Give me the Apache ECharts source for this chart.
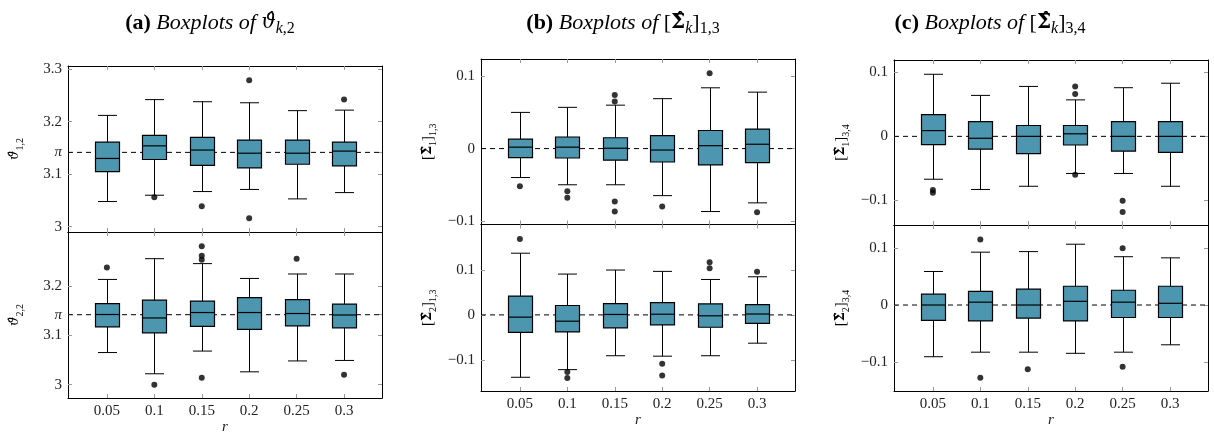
<!DOCTYPE html>
<html><head><meta charset="utf-8">
<script src="https://cdn.jsdelivr.net/npm/echarts@6/dist/echarts.min.js"></script>
<style>html,body{margin:0;padding:0;background:#fff}#c{width:1214px;height:439px}</style>
</head><body><div id="c"></div><script>
// categories (r)
const r = [0.05, 0.1, 0.15, 0.2, 0.25, 0.3];
// each row: [lower whisker, Q1, median, Q3, upper whisker], one row per r
const theta12 = [[3.048,3.105,3.130,3.161,3.212],[3.060,3.128,3.154,3.174,3.242],[3.067,3.117,3.146,3.170,3.238],[3.071,3.112,3.140,3.165,3.236],[3.053,3.119,3.140,3.165,3.221],[3.065,3.116,3.144,3.161,3.222]];
const theta12Out = [[0.1,3.056],[0.15,3.039],[0.2,3.279],[0.2,3.016],[0.3,3.242]];
const theta22 = [[3.065,3.117,3.142,3.164,3.213],[3.022,3.105,3.135,3.171,3.255],[3.068,3.118,3.146,3.169,3.245],[3.026,3.112,3.146,3.176,3.215],[3.048,3.119,3.144,3.172,3.224],[3.049,3.115,3.141,3.163,3.224]];
const theta22Out = [[0.05,3.237],[0.1,3.000],[0.15,3.280],[0.15,3.261],[0.15,3.253],[0.15,3.014],[0.25,3.255],[0.3,3.020]];
const sig1_13 = [[-0.040,-0.0125,0.002,0.013,0.050],[-0.050,-0.013,0.002,0.016,0.057],[-0.050,-0.016,0.0005,0.015,0.060],[-0.065,-0.0185,-0.002,0.018,0.069],[-0.087,-0.0226,0.004,0.025,0.084],[-0.075,-0.0194,0.006,0.027,0.078]];
const sig1_13Out = [[0.05,-0.052],[0.1,-0.059],[0.1,-0.068],[0.15,0.074],[0.15,0.065],[0.15,-0.073],[0.15,-0.087],[0.2,-0.080],[0.25,0.104],[0.3,-0.088]];
const sig2_13 = [[-0.139,-0.039,-0.005,0.042,0.1375],[-0.122,-0.038,-0.014,0.021,0.091],[-0.091,-0.029,0.001,0.025,0.100],[-0.092,-0.022,0.0015,0.0275,0.097],[-0.091,-0.0275,-0.002,0.0245,0.079],[-0.063,-0.019,0.002,0.023,0.085]];
const sig2_13Out = [[0.05,0.169],[0.1,-0.127],[0.1,-0.1405],[0.2,-0.1086],[0.2,-0.135],[0.25,0.1175],[0.25,0.104],[0.3,0.096]];
const sig1_34 = [[-0.067,-0.013,0.009,0.034,0.097],[-0.083,-0.020,-0.003,0.023,0.064],[-0.078,-0.027,0.0,0.017,0.078],[-0.058,-0.0135,0.004,0.017,0.057],[-0.058,-0.023,0.0,0.023,0.076],[-0.078,-0.025,0.0,0.023,0.083]];
const sig1_34Out = [[0.05,-0.084],[0.05,-0.088],[0.2,0.078],[0.2,0.066],[0.2,-0.060],[0.25,-0.1005],[0.25,-0.118]];
const sig2_34 = [[-0.091,-0.027,0.0,0.019,0.059],[-0.083,-0.028,0.005,0.024,0.093],[-0.083,-0.023,0.0,0.028,0.094],[-0.085,-0.028,0.0065,0.033,0.107],[-0.083,-0.022,0.005,0.026,0.085],[-0.070,-0.022,0.003,0.033,0.083]];
const sig2_34Out = [[0.1,0.1155],[0.1,-0.128],[0.15,-0.113],[0.25,0.100],[0.25,-0.1085]];
// tick labels
const thetaTicksTop = [3, 3.1, Math.PI, 3.2, 3.3];
const thetaTicksBottom = [3, 3.1, Math.PI, 3.2];
const sigTicks = [-0.1, 0, 0.1];
const X_MIN = 0.009, X_MAX = 0.34;

const SERIF = '"Liberation Serif", "DejaVu Serif", serif';
const MATH = '"DejaVu Serif", serif';
const FILL = '#4c96b0';

const subRich = {
  m: {fontFamily: MATH, fontSize: 13, fontStyle: 'italic', color: '#000', lineHeight: 20, verticalAlign: 'middle'},
  mb: {fontFamily: MATH, fontSize: 13, fontWeight: 'bold', color: '#000', lineHeight: 20, verticalAlign: 'middle'},
  br: {fontFamily: SERIF, fontSize: 15, color: '#000', lineHeight: 20, verticalAlign: 'middle'},
  s: {fontFamily: SERIF, fontSize: 10, color: '#000', lineHeight: 10, verticalAlign: 'bottom'}
};

const panels = [
  {grid: {left: 68, top: 66, width: 314, height: 166}, data: theta12, out: theta12Out, min: 2.990, max: 3.306, ticks: thetaTicksTop, ref: Math.PI, name: '{m|ϑ̂}{s|1,2}', showX: false},
  {grid: {left: 68, top: 232, width: 314, height: 166}, data: theta22, out: theta22Out, min: 2.973, max: 3.309, ticks: thetaTicksBottom, ref: Math.PI, name: '{m|ϑ̂}{s|2,2}', showX: true},
  {grid: {left: 481, top: 59, width: 314, height: 165.5}, data: sig1_13, out: sig1_13Out, min: -0.1049, max: 0.1238, ticks: sigTicks, ref: 0, name: '{br|[}{mb|Σ̂}{s|1}{br|]}{s|1,3}', showX: false},
  {grid: {left: 481, top: 224.5, width: 314, height: 166.5}, data: sig2_13, out: sig2_13Out, min: -0.1696, max: 0.2015, ticks: sigTicks, ref: 0, name: '{br|[}{mb|Σ̂}{s|2}{br|]}{s|1,3}', showX: true},
  {grid: {left: 894, top: 60, width: 314, height: 165}, data: sig1_34, out: sig1_34Out, min: -0.1385, max: 0.1193, ticks: sigTicks, ref: 0, name: '{br|[}{mb|Σ̂}{s|1}{br|]}{s|3,4}', showX: false},
  {grid: {left: 894, top: 225, width: 314, height: 166}, data: sig2_34, out: sig2_34Out, min: -0.1513, max: 0.1408, ticks: sigTicks, ref: 0, name: '{br|[}{mb|Σ̂}{s|2}{br|]}{s|3,4}', showX: true}
];

function fmt(v) {
  if (Math.abs(v - Math.PI) < 1e-9) return '{pi|π}';
  const s = String(Math.round(v * 1000) / 1000);
  return s.replace('-', '−');
}

function renderBox(params, api) {
  const x = api.value(0);
  const lo = api.coord([x, api.value(1)]);
  const q1 = api.coord([x, api.value(2)]);
  const md = api.coord([x, api.value(3)]);
  const q3 = api.coord([x, api.value(4)]);
  const hi = api.coord([x, api.value(5)]);
  const cx = Math.round(lo[0]) + 0.5;
  const bw = 24, cw = 19;
  const ls = {stroke: '#000', lineWidth: 1};
  return {type: 'group', children: [
    {type: 'line', shape: {x1: cx, y1: hi[1], x2: cx, y2: q3[1]}, style: ls},
    {type: 'line', shape: {x1: cx, y1: q1[1], x2: cx, y2: lo[1]}, style: ls},
    {type: 'line', shape: {x1: cx - cw / 2, y1: hi[1], x2: cx + cw / 2, y2: hi[1]}, style: ls},
    {type: 'line', shape: {x1: cx - cw / 2, y1: lo[1], x2: cx + cw / 2, y2: lo[1]}, style: ls},
    {type: 'rect', shape: {x: cx - bw / 2, y: q3[1], width: bw, height: q1[1] - q3[1]}, style: {fill: FILL, stroke: '#000', lineWidth: 1.2}},
    {type: 'line', shape: {x1: cx - bw / 2, y1: md[1], x2: cx + bw / 2, y2: md[1]}, style: {stroke: '#000', lineWidth: 1.2}}
  ]};
}

const grid = [], xAxis = [], yAxis = [], series = [];
const tickStyle = {color: '#999', width: 1};
panels.forEach((p, i) => {
  grid.push(p.grid);
  const xa = 2 * i, ya = 2 * i;
  xAxis.push({
    type: 'value', gridIndex: i, min: X_MIN, max: X_MAX, position: 'bottom',
    axisLine: {show: true, onZero: false, lineStyle: {color: '#000', width: 1}},
    axisTick: {show: true, inside: true, length: 4, customValues: r, lineStyle: tickStyle},
    axisLabel: {show: p.showX, customValues: r, margin: 6, fontFamily: SERIF, fontSize: 15, color: '#222', formatter: v => String(v)},
    splitLine: {show: false},
    name: p.showX ? 'r' : '', nameLocation: 'middle', nameGap: 22,
    nameTextStyle: {fontFamily: SERIF, fontSize: 15, fontStyle: 'italic', color: '#222'}
  });
  xAxis.push({
    type: 'value', gridIndex: i, min: X_MIN, max: X_MAX, position: 'top',
    axisLine: {show: true, onZero: false, lineStyle: {color: '#000', width: 1}},
    axisTick: {show: true, inside: true, length: 4, customValues: r, lineStyle: tickStyle},
    axisLabel: {show: false}, splitLine: {show: false}
  });
  yAxis.push({
    type: 'value', gridIndex: i, min: p.min, max: p.max, position: 'left',
    axisLine: {show: true, onZero: false, lineStyle: {color: '#000', width: 1}},
    axisTick: {show: true, inside: true, length: 4, customValues: p.ticks, lineStyle: tickStyle},
    axisLabel: {show: true, customValues: p.ticks, margin: 6, fontFamily: SERIF, fontSize: 15, color: '#222', formatter: fmt,
      rich: {pi: {fontFamily: SERIF, fontSize: 15, fontStyle: 'italic', color: '#222'}}},
    splitLine: {show: false},
    name: p.name, nameLocation: 'middle', nameGap: 43, nameRotate: 90,
    nameTextStyle: {rich: subRich}
  });
  yAxis.push({
    type: 'value', gridIndex: i, min: p.min, max: p.max, position: 'right',
    axisLine: {show: true, onZero: false, lineStyle: {color: '#000', width: 1}},
    axisTick: {show: true, inside: true, length: 4, customValues: p.ticks, lineStyle: tickStyle},
    axisLabel: {show: false}, splitLine: {show: false}
  });
  series.push({
    type: 'line', xAxisIndex: xa, yAxisIndex: ya, z: 1, silent: true, symbol: 'none',
    data: [[X_MIN, p.ref], [X_MAX, p.ref]],
    lineStyle: {color: '#000', width: 1, type: [5, 4]}
  });
  series.push({
    type: 'custom', xAxisIndex: xa, yAxisIndex: ya, z: 2,
    renderItem: renderBox,
    encode: {x: 0, y: [1, 2, 3, 4, 5]},
    data: r.map((x, k) => [x].concat(p.data[k]))
  });
  series.push({
    type: 'scatter', xAxisIndex: xa, yAxisIndex: ya, z: 3,
    symbol: 'circle', symbolSize: 6, itemStyle: {color: '#000'},
    data: p.out
  });
});

const tRich = {
  b: {fontFamily: SERIF, fontSize: 22, fontWeight: 'bold', color: '#000'},
  i: {fontFamily: SERIF, fontSize: 22, fontStyle: 'italic', fontWeight: 'normal', color: '#000'},
  r: {fontFamily: SERIF, fontSize: 22, fontWeight: 'normal', color: '#000'},
  mb: {fontFamily: MATH, fontSize: 20, fontWeight: 'bold', color: '#000'},
  m: {fontFamily: MATH, fontSize: 20, fontStyle: 'italic', fontWeight: 'normal', color: '#000'},
  si: {fontFamily: SERIF, fontSize: 16, fontStyle: 'italic', fontWeight: 'normal', color: '#000', verticalAlign: 'bottom', lineHeight: 16},
  s: {fontFamily: SERIF, fontSize: 16, fontWeight: 'normal', color: '#000', verticalAlign: 'bottom', lineHeight: 16}
};
const titles = [
  {left: 205, text: '{b|(a)} {i|Boxplots of} {m|ϑ̂}{si|k}{s|,2}'},
  {left: 618, text: '{b|(b)} {i|Boxplots of} {r|[}{mb|Σ̂}{si|k}{r|]}{s|1,3}'},
  {left: 985, text: '{b|(c)} {i|Boxplots of} {r|[}{mb|Σ̂}{si|k}{r|]}{s|3,4}'}
];
const title = titles.map(t => ({
  text: t.text, left: t.left, top: 4, textAlign: 'center',
  textStyle: {rich: tRich, fontFamily: SERIF, fontSize: 22, fontWeight: 'normal', lineHeight: 28}
}));

const chart = echarts.init(document.getElementById('c'), null, {renderer: 'canvas'});
chart.setOption({animation: false, backgroundColor: '#fff', title, grid, xAxis, yAxis, series});
</script></body></html>
